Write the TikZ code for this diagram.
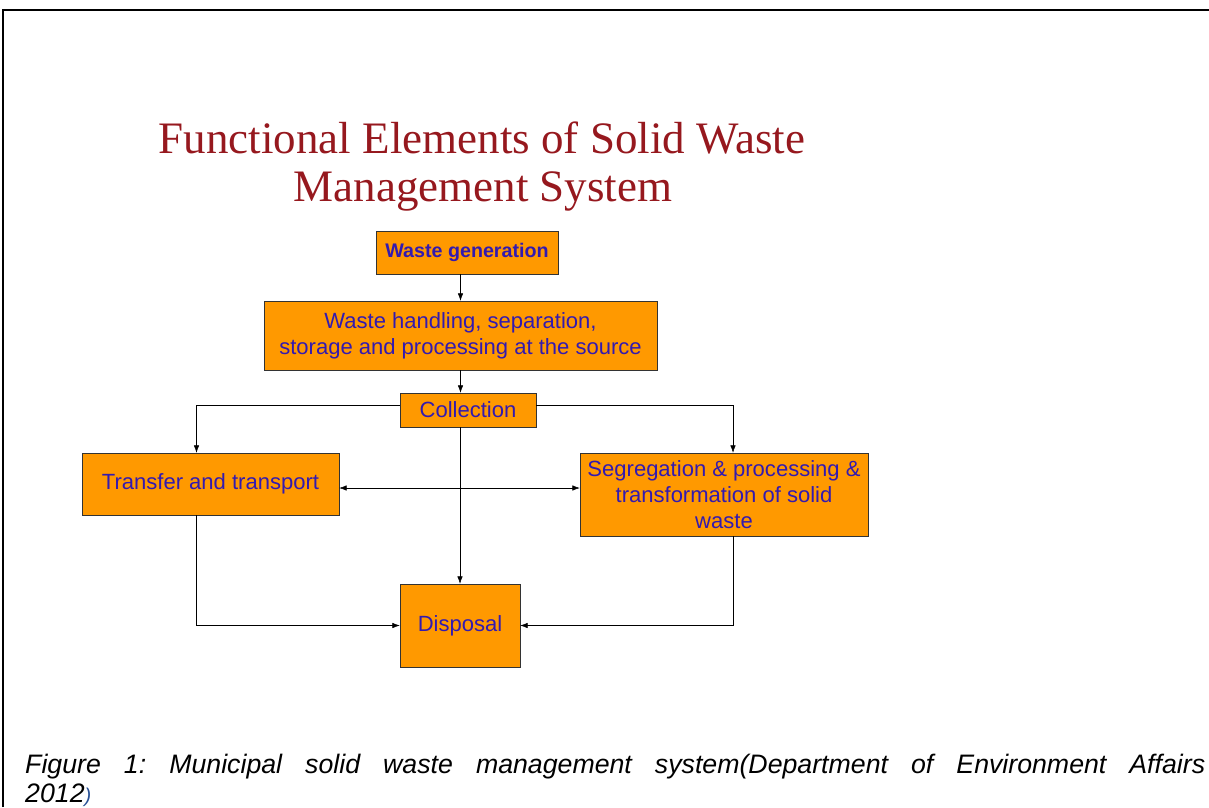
\documentclass[tikz,border=0pt]{standalone}
\usepackage{fontspec}
\setmainfont{Liberation Serif}
\setsansfont{Liberation Sans}
\usetikzlibrary{arrows.meta}
\definecolor{boxorange}{RGB}{255,153,0}
\definecolor{boxtext}{RGB}{51,26,176}
\definecolor{titlered}{RGB}{150,24,30}
\definecolor{parenblue}{RGB}{40,80,150}
\tikzset{
  elembox/.style={draw=black!80, fill=boxorange, text=boxtext, align=center,
    font=\sffamily\fontsize{18.8}{22}\selectfont, inner sep=0pt},
  arr/.style={-{Latex[length=0.22cm,width=0.16cm]}, black},
  arrtwo/.style={{Latex[length=0.22cm,width=0.16cm]}-{Latex[length=0.22cm,width=0.16cm]}, black}
}
\frenchspacing
\begin{document}
\begin{tikzpicture}[x=0.03cm,y=-0.03cm]
			\useasboundingbox (0,0) rectangle (1209,807);
			%% frame
			\draw[line width=0.06cm] (3,807) -- (3,10) -- (1209,10);
			%% title
			\node[anchor=base, text=titlered, font=\fontsize{38.4}{44}\selectfont] (title1) at (482,153) {Functional Elements of Solid Waste};
			\node[anchor=base, text=titlered, font=\fontsize{38.4}{44}\selectfont] (title2) at (483,201) {Management System};
			%% boxes
			\node[elembox, minimum width=5.46cm, minimum height=1.29cm, font=\sffamily\bfseries\fontsize{16.8}{20}\selectfont] (gen) at (467,252.5) {Waste generation};
			\node[elembox, minimum width=11.79cm, minimum height=2.07cm] (hand) at (460.5,335.5) {Waste handling, separation,\\storage and processing at the source};
			\node[elembox, minimum width=4.08cm, minimum height=1.02cm] (coll) at (468,410) {Collection};
			\node[elembox, minimum width=7.71cm, minimum height=1.86cm] (trans) at (210.5,484) {Transfer and transport};
			\node[elembox, minimum width=8.64cm, minimum height=2.49cm] (seg) at (724,494.5) {Segregation \& processing \&\\transformation of solid\\waste};
			\node[elembox, minimum width=3.6cm, minimum height=2.49cm] (disp) at (460,625.5) {Disposal};
			%% connectors
			\draw[arr] (gen.south -| hand.north) -- (hand.north);
			\draw[arr] (hand.south) -- (hand.south |- coll.north);
			\draw[arr] (coll.south -| disp.north) -- (disp.north);
			\draw[arr] ([yshift=0.15cm]coll.west) -| ([xshift=-0.42cm]trans.north);
			\draw[arr] ([yshift=0.15cm]coll.east) -| ([xshift=0.27cm]seg.north);
			\draw[arrtwo] ([yshift=-0.12cm]trans.east) -- ([yshift=-0.12cm]trans.east -| seg.west);
			\draw[arr] ([xshift=-0.42cm]trans.south) |- (disp.west);
			\draw[arr] ([xshift=0.27cm]seg.south) |- (disp.east);
			%% caption
			\node[anchor=base west, inner sep=0pt, font=\sffamily\itshape\fontsize{22.8}{27}\selectfont] (cap1) at (25,773) {\makebox[35.4cm][s]{Figure 1: Municipal solid waste management system(Department of Environment Affairs}};
			\node[anchor=base west, inner sep=0pt, font=\sffamily\itshape\fontsize{22.8}{27}\selectfont] (cap2) at (25,802) {2012\textcolor{parenblue}{\fontsize{17}{20}\selectfont)}};
\end{tikzpicture}
\end{document}
